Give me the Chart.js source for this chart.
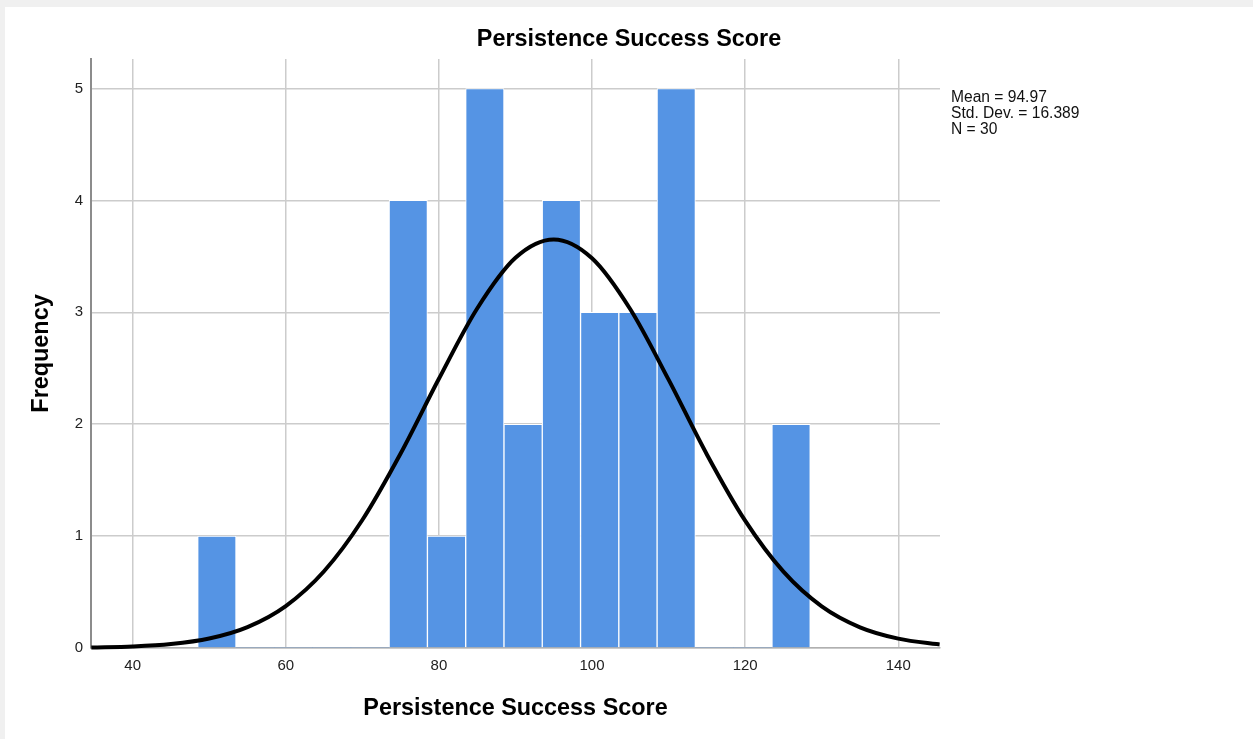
<!DOCTYPE html>
<html>
<head>
<meta charset="utf-8">
<script src="https://cdn.jsdelivr.net/npm/chart.js@4"></script>
<style>
  html, body { margin: 0; padding: 0; background: #f0f0f0; }
  #panel { position: absolute; left: 5px; top: 7px; width: 1248px; height: 732px; background: #fff; }
</style>
</head>
<body>
<div id="panel"><canvas id="myChart" width="1248" height="732"></canvas></div>
<script>
// histogram bins (width 5), centre of each bin
const binCenters = [51, 56, 61, 66, 71, 76, 81, 86, 91, 96, 101, 106, 111, 116, 121, 126];
const frequencies = [1, 0, 0, 0, 0, 4, 1, 5, 2, 4, 3, 3, 5, 0, 0, 2];

// normal curve
const curveX = [34.6, 40, 45, 50, 55, 60, 65, 70, 75, 80, 85, 90, 95, 100, 105, 110, 115, 120, 125, 130, 135, 140, 145, 145.4];
const curveY = [0.004, 0.013, 0.035, 0.085, 0.187, 0.375, 0.686, 1.144, 1.738, 2.406, 3.034, 3.487, 3.651, 3.483, 3.027, 2.398, 1.730, 1.138, 0.682, 0.372, 0.185, 0.084, 0.035, 0.032];

const xTicks = [40, 60, 80, 100, 120, 140];
const yTicks = [0, 1, 2, 3, 4, 5];
const chartTitle = 'Persistence Success Score';
const statLines = ['Mean = 94.97', 'Std. Dev. = 16.389', 'N = 30'];

const FONT = '"Liberation Sans", Arial, sans-serif';

var bars = binCenters.map((c, i) => ({x: c, y: frequencies[i]}));
var curve = curveX.map((x, i) => ({x: x, y: curveY[i]}));

// title centred on the whole panel + stats text on the right
const extras = {
  id: 'extras',
  afterDraw(chart) {
    const ctx = chart.ctx;
    ctx.save();
    ctx.fillStyle = '#000';
    ctx.font = 'bold 23.4px ' + FONT;
    ctx.textAlign = 'center';
    ctx.textBaseline = 'middle';
    ctx.fillText(chartTitle, chart.width / 2, 33);

    ctx.fillStyle = '#111';
    ctx.font = '15.6px ' + FONT;
    ctx.textAlign = 'left';
    statLines.forEach((t, i) => ctx.fillText(t, 946, 91 + i * 15.8));
    ctx.restore();
  }
};

new Chart(document.getElementById('myChart'), {
  type: 'bar',
  data: {
    datasets: [
      {
        type: 'line',
        data: curve,
        borderColor: '#000',
        borderWidth: 4,
        pointRadius: 0,
        fill: false,
        cubicInterpolationMode: 'monotone',
        clip: false,
        order: 0
      },
      {
        type: 'bar',
        data: bars,
        backgroundColor: '#5594e4',
        borderColor: '#ffffff',
        borderWidth: (c) => (c.raw && c.raw.y > 0 ? 1 : 0),
        borderSkipped: 'start',
        barPercentage: 1,
        categoryPercentage: 1,
        grouped: false,
        order: 1
      }
    ]
  },
  plugins: [extras],
  options: {
    responsive: false,
    animation: false,
    layout: { padding: { left: 0, right: 313, top: 52, bottom: 0 } },
    plugins: {
      legend: { display: false },
      tooltip: { enabled: false },
      title: { display: false }
    },
    scales: {
      x: {
        type: 'linear',
        min: 34.56,
        max: 145.45,
        offset: false,
        afterBuildTicks: (s) => { s.ticks = xTicks.map(v => ({value: v})); },
        afterFit: (s) => { s.height = 91; },
        ticks: { color: '#222', font: { family: FONT, size: 15 }, padding: 9, maxRotation: 0, autoSkip: false },
        grid: { color: '#cccccc', lineWidth: 1.5, drawTicks: false, offset: false },
        border: { color: '#b0b0b0', width: 1.5 },
        title: {
          display: true,
          text: 'Persistence Success Score',
          color: '#000',
          font: { family: FONT, size: 23.4, weight: 'bold', lineHeight: 1.2 },
          padding: { top: 0, bottom: 16 }
        }
      },
      y: {
        min: 0,
        max: 5.264,
        afterBuildTicks: (s) => { s.ticks = yTicks.map(v => ({value: v})); },
        afterFit: (s) => { s.width = 86; },
        ticks: { color: '#222', font: { family: FONT, size: 15 }, padding: 8 },
        grid: { color: '#cccccc', lineWidth: 1.5, drawTicks: false },
        border: { color: '#8c8c8c', width: 2 },
        title: {
          display: true,
          text: 'Frequency',
          color: '#000',
          font: { family: FONT, size: 23.4, weight: 'bold', lineHeight: 1.2 },
          padding: { top: 23, bottom: 0 }
        }
      }
    }
  }
});
</script>
</body>
</html>
